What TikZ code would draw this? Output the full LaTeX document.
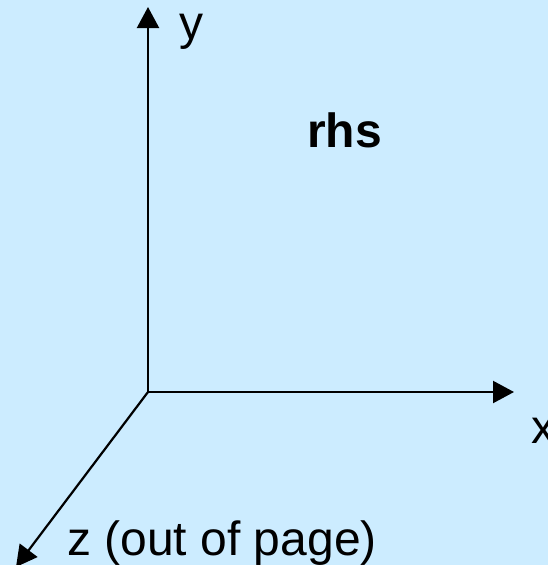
\documentclass[tikz,border=0pt]{standalone}
\usepackage{fontspec}
\setmainfont{Liberation Sans}
\usetikzlibrary{arrows.meta}
\definecolor{bgblue}{RGB}{204,236,255}

\begin{document}
\begin{tikzpicture}[x=0.75pt, y=-0.75pt,
	axis/.style={line width=1.65pt, -{Triangle[length=15.75pt, width=16.5pt]}},
	lbl/.style={inner sep=0pt, anchor=base west, font=\fontsize{36}{43}\selectfont}]
	\useasboundingbox (0,0) rectangle (548,565);
	\clip (0,0) rectangle (548,565);
	\fill[bgblue] (0,0) rectangle (548,565);

	\coordinate (O) at (148,392);
	\coordinate (Y) at (148,7);
	\coordinate (X) at (514,392);
	\coordinate (Z) at (16,567);

	\draw[axis] (O) -- (Y);
	\draw[axis] (O) -- (X);
	\draw[axis] (O) -- (Z);

	\node[lbl] (ylbl) at (179,39) {y};
	\node[lbl] (xlbl) at (531,443) {x};
	\node[lbl] (zlbl) at (67,555) {z (out of page)};
	\node[lbl, font=\bfseries\fontsize{36}{43}\selectfont] (rhs) at (307,147) {rhs};
\end{tikzpicture}
\end{document}
